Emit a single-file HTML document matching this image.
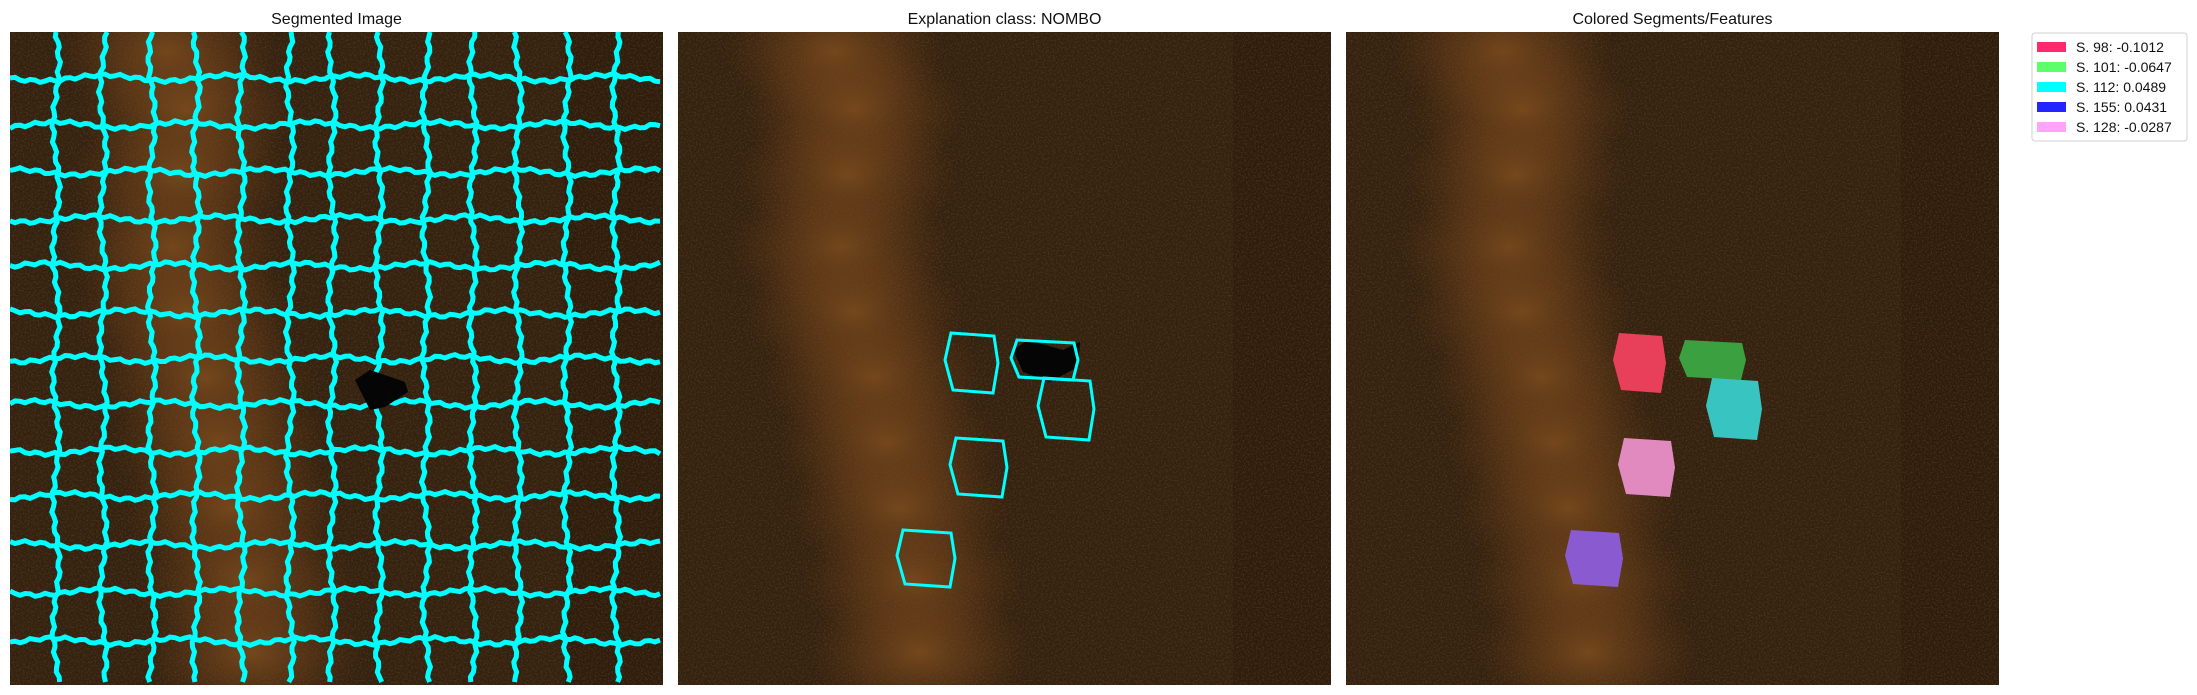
<!DOCTYPE html>
<html><head><meta charset="utf-8">
<style>
body{margin:0;background:#fff;width:2197px;height:695px;overflow:hidden;font-family:"Liberation Sans","DejaVu Sans",sans-serif;}
svg{position:absolute;left:0;top:0;}
</style></head>
<body>
<svg id="fig" width="2197" height="695">
<defs>
<radialGradient id="glow"><stop offset="0" stop-color="#94581f" stop-opacity="0.7"/><stop offset="0.55" stop-color="#7a4519" stop-opacity="0.4"/><stop offset="1" stop-color="#6a3a14" stop-opacity="0"/></radialGradient>
<filter id="noise" x="0" y="0" width="100%" height="100%"><feTurbulence type="fractalNoise" baseFrequency="0.6" numOctaves="2" seed="3"/><feColorMatrix values="0 0 0 0 0.12  0 0 0 0 0.07  0 0 0 0 0.03  0 0 0 -1.2 0.7"/></filter>
<clipPath id="pclip"><rect x="0" y="0" width="653" height="653"/></clipPath>
</defs>
</svg>
<script>
const legendLabels=["S. 98: -0.1012","S. 101: -0.0647","S. 112: 0.0489","S. 155: 0.0431","S. 128: -0.0287"];
const legendColors=["#ff2a6d","#5cff6a","#00ffff","#2424ff","#ffa3ff"];
const titles=["Segmented Image","Explanation class: NOMBO","Colored Segments/Features"];
const vLines=[46,93,142,186,231,280,322,369,416,463,508,557,606];
const hLines=[46,93,140,187,234,281,327,372,419,464,513,560,609];
const blobBoxes=[[267,301,53,60],[333,308,67,40],[360,346,56,62],[219,498,58,57],[272,406,57,59]];
const blobFill=["#e8405a","#3aa040","#38c4c0","#8a5ad0","#e08ac0"];
const glowX=[0.24,0.27,0.26,0.25,0.27,0.3,0.32,0.34,0.36,0.37];
const glowY=[0.03,0.12,0.22,0.33,0.43,0.53,0.63,0.73,0.84,0.95];
const NS="http://www.w3.org/2000/svg";
const svg=document.getElementById('fig');
const S=653, PX=[10,678,1346], PY=32;
function mk(t,a,p){const e=document.createElementNS(NS,t);for(const k in a)e.setAttribute(k,a[k]);(p||svg).appendChild(e);return e;}
PX.forEach((x0,pi)=>{
  const outer=mk('g',{transform:`translate(${x0},${PY})`});
  
  
  const g=mk('g',{'clip-path':'url(#pclip)'},outer);
  mk('rect',{x:0,y:0,width:S,height:S,fill:'#33200e'},g);
  glowX.forEach((gx,i)=>{mk('ellipse',{cx:gx*S,cy:glowY[i]*S,rx:110,ry:70,fill:'url(#glow)'},g);});
  mk('rect',{x:S*0.85,y:0,width:S*0.15,height:S,fill:'#1a0e05',opacity:0.25},g);
  mk('rect',{x:0,y:0,width:S,height:S,filter:'url(#noise)'},g);
  const t=mk('text',{x:x0+S/2,y:24,'text-anchor':'middle','font-size':16,fill:'#111'});
  t.textContent=titles[pi];
  
  
  if(pi===0){
    vLines.forEach((v,i)=>{let d='';for(let y=0;y<=S;y+=5){const xx=v+3*Math.sin(y*0.05+i*1.7)+1.5*Math.sin(y*0.9+i);d+=(y?'L':'M')+xx.toFixed(1)+','+y;}
      const p=mk('path',{d:d,stroke:'#00ffff','stroke-width':5,fill:'none'},g);
      
      });
    hLines.forEach((h,i)=>{let d='';for(let x=0;x<=S;x+=5){const yy=h+3*Math.sin(x*0.05+i*2.3)+1.5*Math.sin(x*0.9+i);d+=(x?'L':'M')+x+','+yy.toFixed(1);}
      const p=mk('path',{d:d,stroke:'#00ffff','stroke-width':5,fill:'none'},g);
      
      });
    mk('path',{d:'M345,348 L360,338 L395,350 L398,360 L375,375 L360,378 Z',fill:'#050505'},g);
  }
  if(pi===1){
    mk('path',{d:'M335,318 L350,308 L385,318 L402,310 L400,335 L372,350 L345,340 Z',fill:'#050505'},g);
    blobBoxes.forEach((b,i)=>{const [bx,by,bw,bh]=b;
      const p=mk('path',{d:`M${bx+6},${by} L${bx+bw-4},${by+3} L${bx+bw},${by+bh*0.5} L${bx+bw-5},${by+bh} L${bx+8},${by+bh-3} L${bx},${by+bh*0.45} Z`,stroke:'#00ffff','stroke-width':3,fill:'none'},g);
      
      });
  }
  if(pi===2){
    blobBoxes.forEach((b,i)=>{const [bx,by,bw,bh]=b;
      const p=mk('path',{d:`M${bx+6},${by} L${bx+bw-4},${by+3} L${bx+bw},${by+bh*0.5} L${bx+bw-5},${by+bh} L${bx+8},${by+bh-3} L${bx},${by+bh*0.45} Z`,fill:blobFill[i]},g);
      
      });
  }
});
const lg=mk('g',{});


mk('rect',{x:2032,y:33,width:155,height:108,rx:3,fill:'#fff',stroke:'#d0d0d0'},lg);
legendLabels.forEach((l,i)=>{
  const y=42+i*20;
  const r=mk('rect',{x:2037,y:y,width:29,height:10,fill:legendColors[i]},lg);
  
  
  const t=mk('text',{x:2076,y:y+10,'font-size':14,fill:'#111'},lg);
  t.textContent=l;
  
  
});
</script>
</body></html>
